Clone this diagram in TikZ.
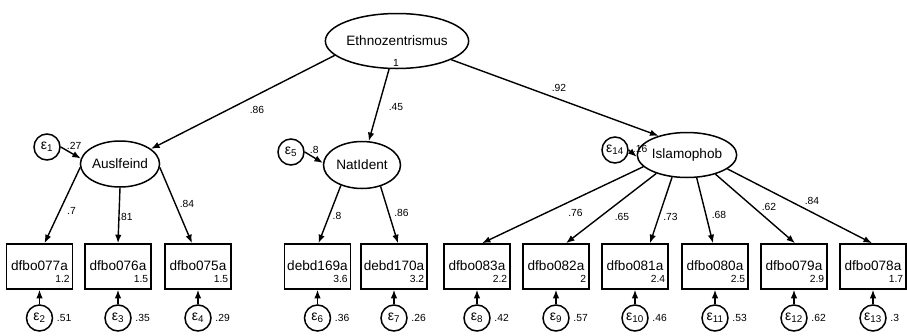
\documentclass[tikz,border=0pt]{standalone}
\usepackage{fontspec}
\setmainfont{Liberation Sans}
\usetikzlibrary{shapes.geometric,arrows.meta,calc}
\newcommand{\epsl}[1]{ε\textsubscript{#1}}
\begin{document}
\begin{tikzpicture}[x=1pt,y=-1pt,
  lat/.style={ellipse,draw,line width=1.5pt,inner sep=0pt,font=\fontsize{13.6}{16}\selectfont},
  obs/.style={rectangle,draw,line width=1.6pt,minimum width=66pt,minimum height=45pt,inner sep=0pt,font=\fontsize{13.6}{16}\selectfont},
  err/.style={circle,draw,line width=1.5pt,minimum size=26pt,inner sep=0pt,font=\fontsize{14}{16}\selectfont},
  pth/.style={line width=1.4pt,-{Latex[length=8.5pt,width=6.5pt]}},
  lab/.style={font=\fontsize{10.3}{12}\selectfont,inner sep=0pt},
]
\useasboundingbox (0,0) rectangle (907,335);

% latent variables
\node[lat,minimum width=110pt,minimum height=55pt] (ethno) at (397,41) {Ethnozentrismus};
\node[lat,minimum width=77pt,minimum height=46pt] (ausf) at (120,164) {Auslfeind};
\node[lat,minimum width=77pt,minimum height=47pt] (nat) at (362,165) {NatIdent};
\node[lat,minimum width=80pt,minimum height=45pt] (isl) at (687,155) {Islamophob};

% latent errors
\node[err] (e1) at (47,147) {\epsl{1}};
\node[err] (e5) at (291,152) {\epsl{5}};
\node[err] (e14) at (615,150) {\epsl{14}};

% observed variables
\foreach \n/\x/\t/\v in {b77/39.5/dfbo077a/1.2, b76/118/dfbo076a/1.5, b75/198/dfbo075a/1.5,
  d169/317.5/debd169a/3.6, d170/394/debd170a/3.2,
  b83/477/dfbo083a/2.2, b82/556/dfbo082a/2, b81/635/dfbo081a/2.4,
  b80/715/dfbo080a/2.5, b79/794/dfbo079a/2.9, b78/873/dfbo078a/1.7}{
  \node[obs] (\n) at (\x,266.5) {\raisebox{1.5pt}{\t}};
  \node[lab,anchor=south east] (\n v) at ($(\n.south east)+(-3.5,-7)$) {\v};
}

% measurement errors
\foreach \n/\b/\k/\v in {e2/b77/2/.51, e3/b76/3/.35, e4/b75/4/.29,
  e6/d169/6/.36, e7/d170/7/.26,
  e8/b83/8/.42, e9/b82/9/.57, e10/b81/10/.46, e11/b80/11/.53, e12/b79/12/.62, e13/b78/13/.3}{
  \node[err] (\n) at ($(\b)+(0,51.5)$) {\epsl{\k}};
  \draw[pth] (\n) -- (\b);
  \node[lab,anchor=west] (\n v) at ($(\n.east)+(3.5,0)$) {\v};
}

% structural paths
\draw[pth] (ethno.193) -- (ausf.26);
\draw[pth] (ethno) -- (nat);
\draw[pth] (ethno.341) -- (isl.146);
\node[lab] (l86) at (257,110) {.86};
\node[lab] (l45) at (396,107) {.45};
\node[lab] (l92) at (559,88) {.92};
\node[lab] (l1) at (396,63) {1};

% error to latent
\draw[pth] (e1.east) -- (ausf.172);
\draw[pth] (e5.east) -- (nat.177);
\draw[pth] (e14.east) -- (isl.182);
\node[lab,anchor=west] (v1) at ($(e1.east)+(6,-1)$) {.27};
\node[lab,anchor=west] (v5) at ($(e5.east)+(5,-2)$) {.8};
\node[lab,anchor=west] (v14) at ($(e14.east)+(4,-1)$) {.16};

% loadings
\draw[pth] (ausf.185) -- ($(b77.north)+(5,0)$);
\draw[pth] (ausf.south) -- (b76.north);
\draw[pth] (ausf.355) -- ($(b75.north)+(-6,0)$);
\draw[pth] (nat.224) -- ($(d169.north)+(1,0)$);
\draw[pth] (nat.311) -- ($(d170.north)+(4,0)$);
\draw[pth] (isl.195) -- ($(b83.north)+(5,0)$);
\draw[pth] (isl.211) -- ($(b82.north)+(10,0)$);
\draw[pth] (isl.236) -- ($(b81.north)+(15,0)$);
\draw[pth] (isl.293) -- ($(b80.north)+(-2,0)$);
\draw[pth] (isl.326) -- ($(b79.north)+(1,0)$);
\draw[pth] (isl.341) -- ($(b78.north)+(-1,0)$);

\node[lab] (a7) at (71.5,211) {.7};
\node[lab] (a81) at (125.5,217) {.81};
\node[lab] (a84) at (187,204) {.84};
\node[lab] (n8) at (337,216) {.8};
\node[lab] (n86) at (401.5,213) {.86};
\node[lab] (i76) at (575.5,213) {.76};
\node[lab] (i65) at (622,217) {.65};
\node[lab] (i73) at (670.5,217) {.73};
\node[lab] (i68) at (719,215) {.68};
\node[lab] (i62) at (769,207) {.62};
\node[lab] (i84) at (812,201) {.84};
\end{tikzpicture}
\end{document}
